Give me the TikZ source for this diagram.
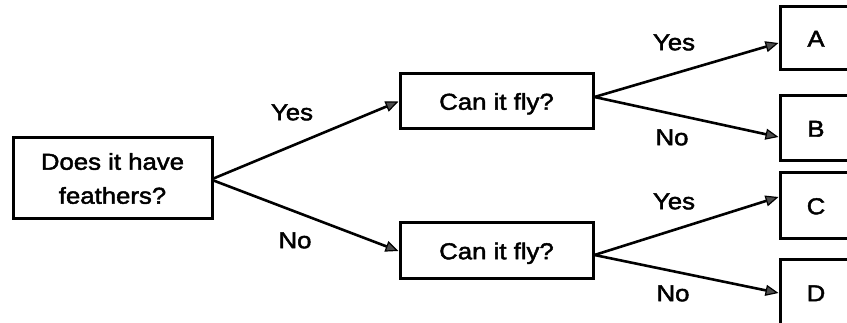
\documentclass[tikz,border=0pt]{standalone}
\usepackage{fontspec}
\setmainfont{Liberation Sans}[FakeStretch=1.12,FakeBold=2]
\usetikzlibrary{arrows.meta,calc}
\begin{document}
\begin{tikzpicture}[x=1pt,y=-1pt,
  box/.style={draw, line width=3pt, rectangle, inner sep=0pt, align=center,
    font=\fontsize{23}{34}\selectfont, text height=16.5pt, text depth=0pt},
  lbl/.style={inner sep=0pt, font=\fontsize{23}{34}\selectfont, text height=16.5pt, text depth=0pt},
  conn/.style={line width=2.6pt, -{Triangle[length=13pt,width=11pt,fill=gray!60!black,line width=1.2pt]}}]
\useasboundingbox (0,0) rectangle (847,323);
\clip (0,0) rectangle (847,323);
\node[box, minimum width=199pt, minimum height=81pt, text height=, text depth=] (Q1) at (112.5,178.5) {Does it have\\feathers?};
\node[box, minimum width=193pt, minimum height=55pt] (F1) at (496.5,101.5) {Can it fly?};
\node[box, minimum width=193pt, minimum height=56pt] (F2) at (496.5,251) {Can it fly?};
\node[box, minimum width=72pt, minimum height=63pt] (A) at (816,38.5) {A};
\node[box, minimum width=72pt, minimum height=65pt] (B) at (816,128.5) {B};
\node[box, minimum width=72pt, minimum height=66pt] (C) at (816,206) {C};
\node[box, minimum width=72pt, minimum height=66pt] (D) at (816,293) {D};
\draw[conn] (Q1.east) -- (F1.west);
\draw[conn] ($(Q1.east)+(0,2)$) -- (F2.west);
\draw[conn] ($(F1.east)+(0,-4.5)$) -- ($(A.west)+(0,4.5)$);
\draw[conn] ($(F1.east)+(0,-4.5)$) -- ($(B.west)+(0,8.5)$);
\draw[conn] ($(F2.east)+(0,4)$) -- ($(C.west)+(0,-9)$);
\draw[conn] ($(F2.east)+(0,4)$) -- (D.west);
\node[lbl] (yes1) at (292,112) {Yes};
\node[lbl] (no1) at (295,240) {No};
\node[lbl] (yes2) at (674,42) {Yes};
\node[lbl] (no2) at (672,137) {No};
\node[lbl] (yes3) at (674,201) {Yes};
\node[lbl] (no3) at (673,293) {No};
\end{tikzpicture}
\end{document}
